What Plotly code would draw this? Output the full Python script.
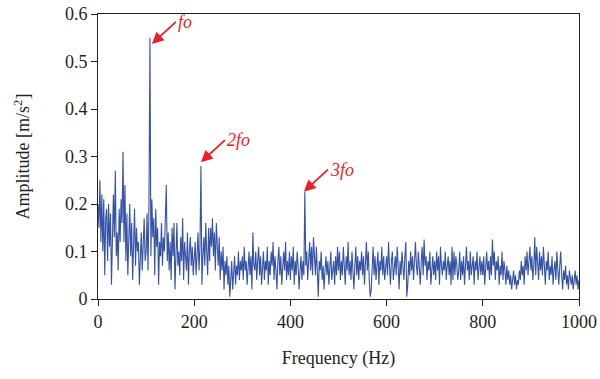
import plotly.graph_objects as go

freq_step = 2  # Hz between spectral lines
amp_rows = [
    [0.20,0.15,0.25,0.12,0.22,0.10,0.21,0.05,0.17,0.19,0.08,0.20,0.11,0.18,0.03,0.16,0.22,0.13,0.27,0.09,0.14,0.06,0.19,0.12,0.21],
    [0.16,0.31,0.12,0.24,0.08,0.18,0.05,0.14,0.20,0.09,0.16,0.04,0.13,0.19,0.07,0.15,0.10,0.12,0.03,0.09,0.14,0.06,0.11,0.17,0.08],
    [0.10,0.18,0.06,0.20,0.55,0.09,0.21,0.13,0.17,0.05,0.19,0.11,0.15,0.03,0.12,0.09,0.16,0.07,0.13,0.10,0.18,0.24,0.08,0.14,0.06],
    [0.12,0.04,0.15,0.09,0.16,0.02,0.11,0.16,0.07,0.10,0.05,0.13,0.08,0.17,0.04,0.12,0.09,0.06,0.14,0.03,0.10,0.13,0.07,0.11,0.05],
    [0.08,0.12,0.05,0.10,0.14,0.06,0.11,0.28,0.03,0.09,0.13,0.07,0.16,0.10,0.05,0.15,0.08,0.15,0.11,0.17,0.09,0.14,0.06,0.16,0.12],
    [0.07,0.13,0.04,0.10,0.06,0.11,0.02,0.08,0.05,0.09,0.03,0.07,0.005,0.04,0.08,0.02,0.06,0.09,0.03,0.07,0.05,0.10,0.04,0.08,0.06],
    [0.09,0.04,0.11,0.06,0.08,0.03,0.07,0.10,0.05,0.09,0.02,0.14,0.07,0.06,0.10,0.04,0.08,0.11,0.05,0.09,0.03,0.07,0.10,0.04,0.08],
    [0.06,0.11,0.03,0.08,0.05,0.10,0.07,0.12,0.04,0.09,0.06,0.02,0.08,0.11,0.05,0.09,0.03,0.07,0.10,0.06,0.12,0.04,0.08,0.05,0.10],
    [0.04,0.09,0.06,0.11,0.03,0.08,0.05,0.10,0.07,0.02,0.06,0.09,0.04,0.08,0.05,0.225,0.07,0.10,0.04,0.09,0.12,0.06,0.11,0.05,0.13],
    [0.09,0.05,0.11,0.07,0.005,0.08,0.06,0.10,0.04,0.07,0.02,0.06,0.09,0.05,0.08,0.03,0.07,0.10,0.04,0.06,0.08,0.03,0.09,0.05,0.11],
    [0.06,0.10,0.04,0.08,0.05,0.11,0.07,0.03,0.09,0.06,0.12,0.05,0.08,0.04,0.10,0.06,0.02,0.07,0.11,0.05,0.09,0.04,0.08,0.06,0.10],
    [0.05,0.09,0.03,0.07,0.12,0.06,0.10,0.04,0.005,0.02,0.06,0.11,0.05,0.09,0.04,0.07,0.10,0.03,0.08,0.06,0.11,0.05,0.09,0.04,0.07],
    [0.09,0.05,0.12,0.07,0.03,0.08,0.10,0.04,0.06,0.09,0.05,0.11,0.07,0.02,0.08,0.05,0.10,0.06,0.04,0.09,0.12,0.005,0.03,0.08,0.05],
    [0.10,0.06,0.09,0.04,0.08,0.12,0.07,0.05,0.10,0.06,0.03,0.08,0.11,0.05,0.125,0.07,0.09,0.04,0.08,0.06,0.10,0.03,0.07,0.09,0.05],
    [0.08,0.04,0.10,0.06,0.09,0.03,0.11,0.07,0.05,0.08,0.06,0.10,0.04,0.07,0.09,0.05,0.08,0.03,0.11,0.04,0.10,0.05,0.09,0.07,0.04],
    [0.06,0.10,0.04,0.08,0.05,0.09,0.03,0.07,0.11,0.06,0.08,0.04,0.10,0.05,0.07,0.09,0.03,0.08,0.06,0.10,0.04,0.07,0.09,0.05,0.08],
    [0.05,0.09,0.03,0.07,0.10,0.06,0.08,0.04,0.09,0.05,0.125,0.07,0.10,0.04,0.08,0.06,0.09,0.03,0.07,0.05,0.10,0.04,0.08,0.06,0.03],
    [0.07,0.04,0.06,0.03,0.05,0.02,0.04,0.06,0.03,0.05,0.02,0.04,0.03,0.06,0.04,0.08,0.05,0.07,0.03,0.09,0.06,0.10,0.05,0.08,0.11],
    [0.06,0.09,0.04,0.07,0.13,0.05,0.11,0.08,0.04,0.10,0.06,0.09,0.05,0.11,0.07,0.03,0.08,0.06,0.10,0.04,0.07,0.05,0.09,0.03,0.06],
    [0.08,0.04,0.10,0.06,0.03,0.07,0.10,0.05,0.02,0.06,0.04,0.07,0.03,0.05,0.02,0.06,0.04,0.03,0.05,0.02,0.04,0.06,0.03,0.05,0.02],
    [0.04],
]
amplitude = [v for row in amp_rows for v in row]
frequency = [i * freq_step for i in range(len(amplitude))]

x_ticks = [0, 200, 400, 600, 800, 1000]
y_ticks = [0, 0.1, 0.2, 0.3, 0.4, 0.5, 0.6]

# harmonic labels at their arrow tips
harm_labels = ["fo", "2fo", "3fo"]
harm_tip_x = [112, 214, 428]
harm_tip_y = [0.537, 0.288, 0.226]

font_family = "Liberation Serif, DejaVu Serif, serif"
red = "#ee1c25"
ink = "#231f20"

fig = go.Figure()
fig.add_trace(go.Scatter(
    x=frequency, y=amplitude, mode="lines",
    line=dict(color="#3552a6", width=1.1),
    showlegend=False, hoverinfo="skip",
))

for lab, tx, ty in zip(harm_labels, harm_tip_x, harm_tip_y):
    fig.add_annotation(x=tx, y=ty, ax=24, ay=-22, text="<i>" + lab + "</i>",
                       showarrow=True, xanchor="left", yanchor="middle",
                       arrowhead=2, arrowsize=1.3, arrowwidth=1.8, arrowcolor=red,
                       font=dict(family=font_family, size=18, color=red),
                       xref="x", yref="y")

axis_common = dict(
    showline=True, linecolor=ink, linewidth=1, mirror=True,
    ticks="outside", ticklen=6, tickcolor=ink, tickwidth=1,
    showgrid=False, zeroline=False, automargin=False,
    ticklabeloverflow="allow",
    tickfont=dict(family=font_family, size=18, color=ink),
)

fig.update_layout(
    width=600, height=379,
    margin=dict(l=98, r=21, t=14, b=80, autoexpand=False),
    paper_bgcolor="white", plot_bgcolor="white",
    font=dict(family=font_family, color=ink),
    xaxis=dict(range=[0, 1000], tickvals=x_ticks,
               title=dict(text="Frequency (Hz)", font=dict(family=font_family, size=18), standoff=20),
               **axis_common),
    yaxis=dict(range=[0, 0.6], tickvals=y_ticks,
               title=dict(text="Amplitude [m/s<sup>2</sup>]", font=dict(family=font_family, size=18), standoff=30),
               **axis_common),
)

# remove the page's default body margin so the figure fills the window exactly
fig.write_html("out.html",
               config={"displayModeBar": False, "staticPlot": True},
               post_script="document.body.style.margin='0';document.body.style.overflow='hidden';")
